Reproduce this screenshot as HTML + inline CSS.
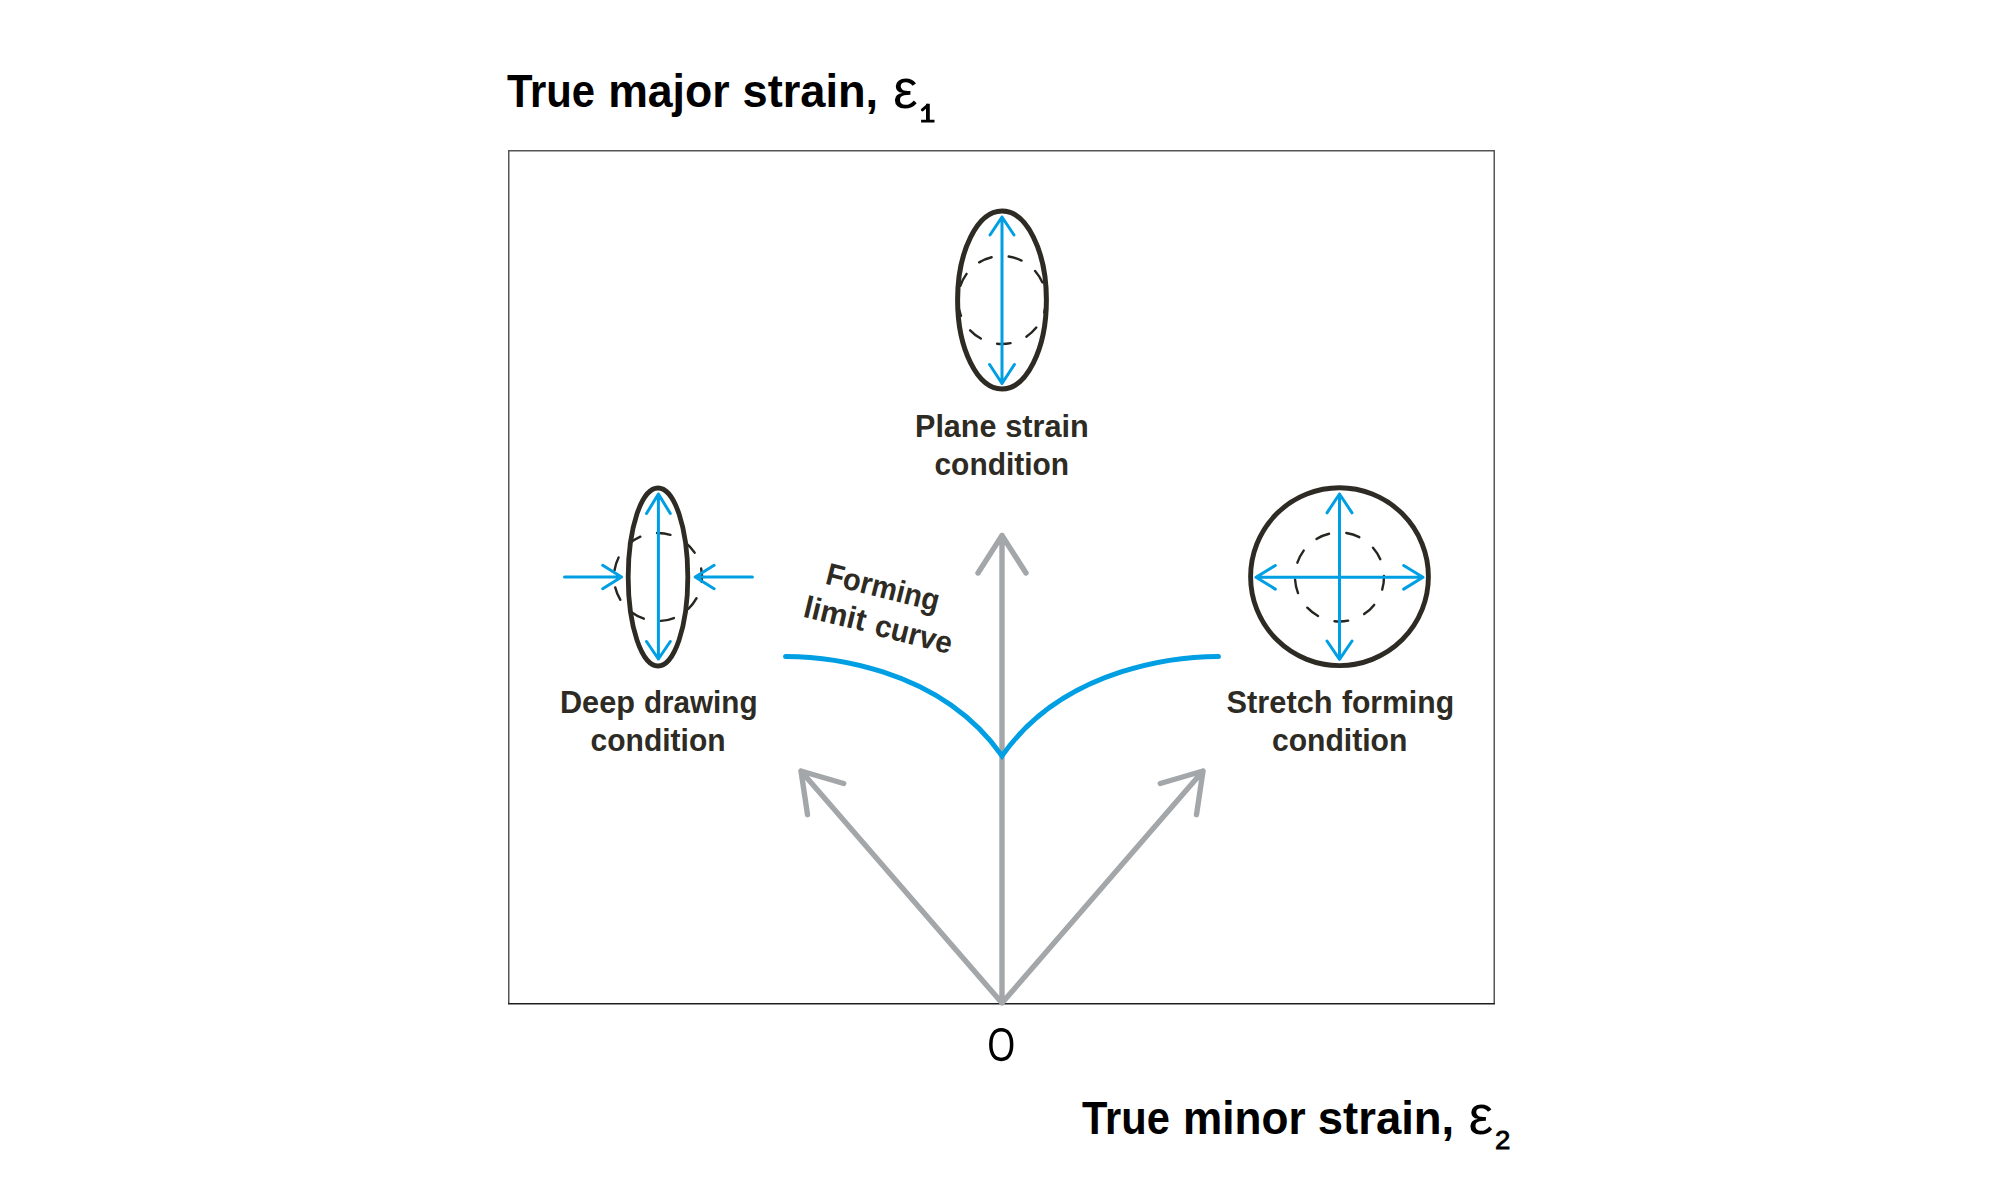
<!DOCTYPE html>
<html><head><meta charset="utf-8"><style>
html,body{margin:0;padding:0;background:#fff;width:2000px;height:1194px;overflow:hidden}
svg{display:block}
</style></head><body>
<svg width="2000" height="1194" viewBox="0 0 2000 1194">
<rect width="2000" height="1194" fill="#fff"/>
<path d="M508.75 1003V150.75H1494.25V1003" fill="none" stroke="#555" stroke-width="1.5"/>
<path d="M508 1003.7H1495" fill="none" stroke="#1e1e1e" stroke-width="1.4"/>
<path d="M1002 1003L1002 535.5M978 573L1002 535.5L1026 573M1002 1003L801 771M843.7 783.5L801 771L807.5 814.7M1002 1003L1203 771M1160.3 783.5L1203 771L1196.5 814.7" fill="none" stroke="#a4a7aa" stroke-width="5.4" stroke-linecap="round" stroke-linejoin="round"/>
<path d="M785.6 656.4C820.52 656.41 938.05 664.66 1002 755.9C1065.95 664.66 1183.48 656.41 1218.4 656.4" fill="none" stroke="#009fe3" stroke-width="5" stroke-linecap="round" stroke-linejoin="miter" stroke-miterlimit="10"/>
<path d="M1045.99 299.08A44 44 0 0 1 1044.21 312.42M1036.29 327.57A44 44 0 0 1 1026.35 336.65M1010.55 343.16A44 44 0 0 1 997.10 343.73M980.80 338.56A44 44 0 0 1 970.14 330.34M960.98 315.91A44 44 0 0 1 958.09 302.76M960.35 285.82A44 44 0 0 1 966.58 273.89M979.21 262.36A44 44 0 0 1 991.65 257.23M1008.73 256.52A44 44 0 0 1 1021.56 260.59M1035.11 271.02A44 44 0 0 1 1042.32 282.38" fill="none" stroke="#26251f" stroke-width="2.4" stroke-linecap="round"/>
<ellipse cx="1002" cy="300" rx="44.4" ry="89" fill="none" stroke="#2d2b23" stroke-width="5"/>
<path d="M1002 383.5L1002 217M990 235L1002 217L1014 235M989.6 364.5L1002 383.5L1014.4 364.5" fill="none" stroke="#009fe3" stroke-width="3" stroke-linecap="round" stroke-linejoin="round"/>
<path d="M696.56 598.20A44 44 0 0 1 688.34 608.86M673.91 618.02A44 44 0 0 1 660.76 620.91M643.82 618.65A44 44 0 0 1 631.89 612.42M620.36 599.79A44 44 0 0 1 615.23 587.35M614.52 570.27A44 44 0 0 1 618.59 557.44M629.02 543.89A44 44 0 0 1 640.38 536.68M657.08 533.01A44 44 0 0 1 670.42 534.79M685.57 542.71A44 44 0 0 1 694.65 552.65M701.16 568.45A44 44 0 0 1 701.73 581.90" fill="none" stroke="#26251f" stroke-width="2.4" stroke-linecap="round"/>
<ellipse cx="658" cy="577" rx="29.8" ry="89" fill="none" stroke="#2d2b23" stroke-width="4.8"/>
<path d="M658.4 659L658.4 494M646.5 513.5L658.4 494L670.3 513.5M646.5 641.5L658.4 659L670.3 641.5M564.5 577H621.5M602.7 565.3L621.5 577L602.7 588.7M752.4 577H695.2M714.1 565.3L695.2 577L714.1 588.7" fill="none" stroke="#009fe3" stroke-width="3" stroke-linecap="round" stroke-linejoin="round"/>
<path d="M1383.99 576.07A44.5 44.5 0 0 1 1382.19 589.56M1374.18 604.88A44.5 44.5 0 0 1 1364.13 614.06M1348.14 620.65A44.5 44.5 0 0 1 1334.54 621.22M1318.06 616.00A44.5 44.5 0 0 1 1307.27 607.69M1298.01 593.09A44.5 44.5 0 0 1 1295.09 579.79M1297.37 562.66A44.5 44.5 0 0 1 1303.68 550.59M1316.45 538.94A44.5 44.5 0 0 1 1329.04 533.75M1346.31 533.02A44.5 44.5 0 0 1 1359.29 537.14M1372.98 547.69A44.5 44.5 0 0 1 1380.28 559.18" fill="none" stroke="#26251f" stroke-width="2.4" stroke-linecap="round"/>
<circle cx="1339.5" cy="576.7" r="88.9" fill="none" stroke="#2d2b23" stroke-width="4.9"/>
<path d="M1339.5 659.3L1339.5 494M1327 512.8L1339.5 494L1352 512.8M1327 641L1339.5 659.3L1352 641M1256 577.3H1423M1275.3 565.5L1256 577.3L1275.3 589.1M1403.7 565.5L1423 577.3L1403.7 589.1" fill="none" stroke="#009fe3" stroke-width="3" stroke-linecap="round" stroke-linejoin="round"/>
<g style="font-family:'Liberation Sans',sans-serif;font-weight:bold;font-size:31px" fill="#2d2b23"><text transform="translate(915.07 437) scale(0.9829 1)">Plane</text><text transform="translate(1005.17 437) scale(0.9899 1)">strain</text><text transform="translate(934.5 474.8) scale(0.9648 1)">condition</text></g>
<g style="font-family:'Liberation Sans',sans-serif;font-weight:bold;font-size:31px" fill="#2d2b23"><text transform="translate(559.95 713) scale(0.9899 1)">Deep</text><text transform="translate(643.91 713) scale(0.9565 1)">drawing</text><text transform="translate(590.6 750.5) scale(0.9677 1)">condition</text></g>
<g style="font-family:'Liberation Sans',sans-serif;font-weight:bold;font-size:31px" fill="#2d2b23"><text transform="translate(1226.58 713.1) scale(0.9928 1)">Stretch</text><text transform="translate(1341.9 713.1) scale(0.9722 1)">forming</text><text transform="translate(1271.9 750.6) scale(0.9714 1)">condition</text></g>
<g style="font-family:'Liberation Sans',sans-serif;font-weight:bold;font-size:31px" fill="#2d2b23"><text transform="translate(824.2 583.4) rotate(14.1) scale(0.935 1)">Forming</text><text transform="translate(801.91 616.5) rotate(13.5) scale(0.992 1)">limit</text><text transform="translate(873.2 634.7) rotate(14.3) scale(0.95 1)">curve</text></g>
<g style="font-family:'Liberation Sans',sans-serif;font-weight:bold;font-size:46.4px" fill="#000"><text transform="translate(506.88 106.9) scale(0.9006 1)">True</text><text transform="translate(608.13 106.9) scale(0.9613 1)">major</text><text transform="translate(742.49 106.9) scale(0.9747 1)">strain,</text></g>
<text x="893" y="107.5" style="font-family:'Liberation Sans',sans-serif;font-size:55.5px" fill="#000">ε</text>
<path d="M926 103.8H929.8V122.4H926ZM921.1 119.7H934.5V122.4H921.1Z" fill="#000"/><path d="M922.4 109.8L927.6 105.3" stroke="#000" stroke-width="3" stroke-linecap="round"/>
<g style="font-family:'Liberation Sans',sans-serif;font-weight:bold;font-size:46.4px" fill="#000"><text transform="translate(1081.88 1133.8) scale(0.8975 1)">True</text><text transform="translate(1183.01 1133.8) scale(0.9518 1)">minor</text><text transform="translate(1317.78 1133.8) scale(0.9799 1)">strain,</text></g>
<text x="1468.5" y="1134.3" style="font-family:'Liberation Sans',sans-serif;font-size:55.5px" fill="#000">ε</text>
<text transform="translate(1495 1149.3) scale(1.04 1)" style="font-family:'Liberation Sans',sans-serif;font-size:26.5px" fill="#000" stroke="#000" stroke-width="0.9">2</text>
<path d="M1001.25 1029.8C1007.91 1029.8 1011.65 1035.13 1011.65 1044.6C1011.65 1054.07 1007.91 1059.3999999999999 1001.25 1059.3999999999999C994.59 1059.3999999999999 990.85 1054.07 990.85 1044.6C990.85 1035.13 994.59 1029.8 1001.25 1029.8Z" fill="none" stroke="#000" stroke-width="3.5"/>
</svg></body></html>
